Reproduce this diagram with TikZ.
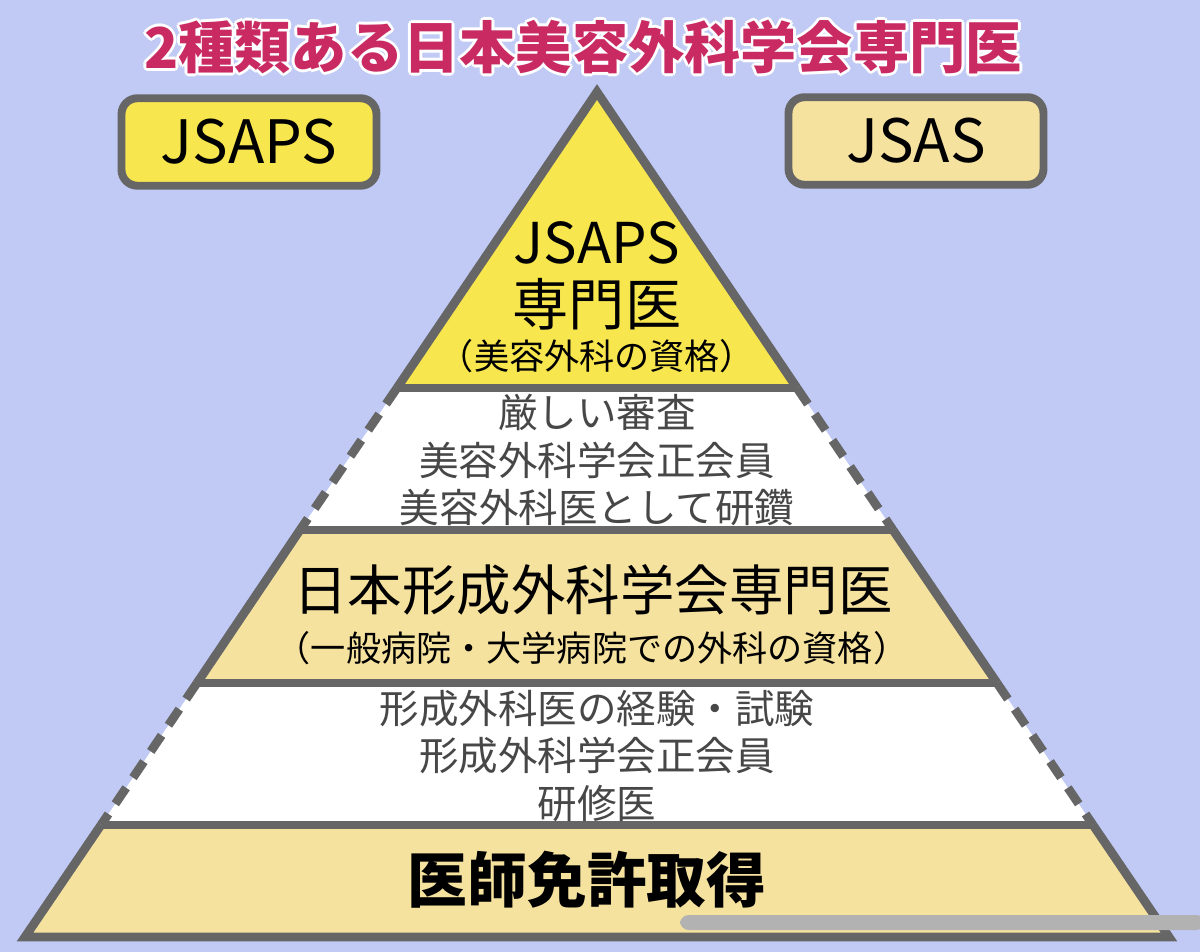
\documentclass[tikz,border=0pt]{standalone}
\usepackage{fontspec}
\newfontfamily\jp{Noto Sans CJK JP}
\tikzset{
  rim/.style={draw=black!60,line width=5pt},
  dashrim/.style={draw=black!60,line width=5pt,dash pattern=on 11pt off 7pt},
  badge/.style={rounded corners=9pt,draw=black!60,line width=4.5pt,minimum width=5.1cm,minimum height=1.75cm,inner sep=0pt},
  note/.style={align=center,text=black!72,font=\jp\fontsize{22.5}{27}\selectfont},
  headline/.style={font=\jp\bfseries\fontsize{32}{36}\selectfont},
}
\definecolor{sky}{HTML}{C0CAF5}
\definecolor{lemon}{HTML}{F8E64E}
\definecolor{cream}{HTML}{F6E29F}
\definecolor{berry}{HTML}{C92A62}
\begin{document}
\begin{tikzpicture}[x=0.02cm,y=-0.02cm]
    \fill[sky] (0,0) rectangle (1200,952);
    \useasboundingbox (0,0) rectangle (1200,952);

    % title with white rim
    \foreach \dx/\dy in {-3/0,3/0,0/-3,0/3,-2/-2,2/2,-2/2,2/-2}
        \node[headline,text=white] at (583+\dx,47+\dy) {2種類ある日本美容外科学会専門医};
    \node[headline,text=berry] (title) at (583,47) {2種類ある日本美容外科学会専門医};

    \node[badge,fill=lemon,font=\jp\fontsize{34}{40}\selectfont] (jsaps) at (249,142) {JSAPS};
    \node[badge,fill=cream,font=\jp\fontsize{34}{40}\selectfont] (jsas) at (916,141) {JSAS};

    % bands of the pyramid
    \fill[lemon] (597,92) -- (797,388) -- (397,388) -- cycle;
    \fill[white] (397,388) -- (797,388) -- (893,530) -- (300,530) -- cycle;
    \fill[cream] (300,530) -- (893,530) -- (997,683) -- (197,683) -- cycle;
    \fill[white] (197,683) -- (997,683) -- (1093,825) -- (101,825) -- cycle;
    \fill[cream] (101,825) -- (1093,825) -- (1169,937) -- (25,937) -- cycle;

    % outline
    \draw[rim,line join=miter] (397,388) -- (597,92) -- (797,388);
    \draw[dashrim] (397,388) -- (300,530);
    \draw[dashrim] (797,388) -- (893,530);
    \draw[rim] (300,530) -- (197,683);
    \draw[rim] (893,530) -- (997,683);
    \draw[dashrim] (197,683) -- (101,825);
    \draw[dashrim] (997,683) -- (1093,825);
    \draw[rim] (101,825) -- (25,937) -- (1169,937) -- (1093,825);
    \foreach \ya/\xl/\xr in {388/397/797,530/300/893,683/197/997,825/101/1093}
        \draw[rim] (\xl,\ya) -- (\xr,\ya);

    % texts
    \node[align=center,font=\jp\fontsize{32}{35}\selectfont] (top) at (597,276) {JSAPS\\専門医};
    \node[font=\jp\fontsize{20}{24}\selectfont] (topsub) at (597,356) {（美容外科の資格）};
    \node[note] (step1) at (597,460) {厳しい審査\\美容外科学会正会員\\美容外科医として研鑽};
    \node[font=\jp\fontsize{31}{35}\selectfont] (mid) at (593,590) {日本形成外科学会専門医};
    \node[font=\jp\fontsize{20}{24}\selectfont] (midsub) at (592,648) {（一般病院・大学病院での外科の資格）};
    \node[note] (step2) at (597,756) {形成外科医の経験・試験\\形成外科学会正会員\\研修医};
    \node[font=\jp\bfseries\fontsize{34}{38}\selectfont] (base) at (587,880) {医師免許取得};

    % scroll bar
    \fill[black!30,rounded corners=5pt] (680,915) rectangle (1205,930);
\end{tikzpicture}
\end{document}
